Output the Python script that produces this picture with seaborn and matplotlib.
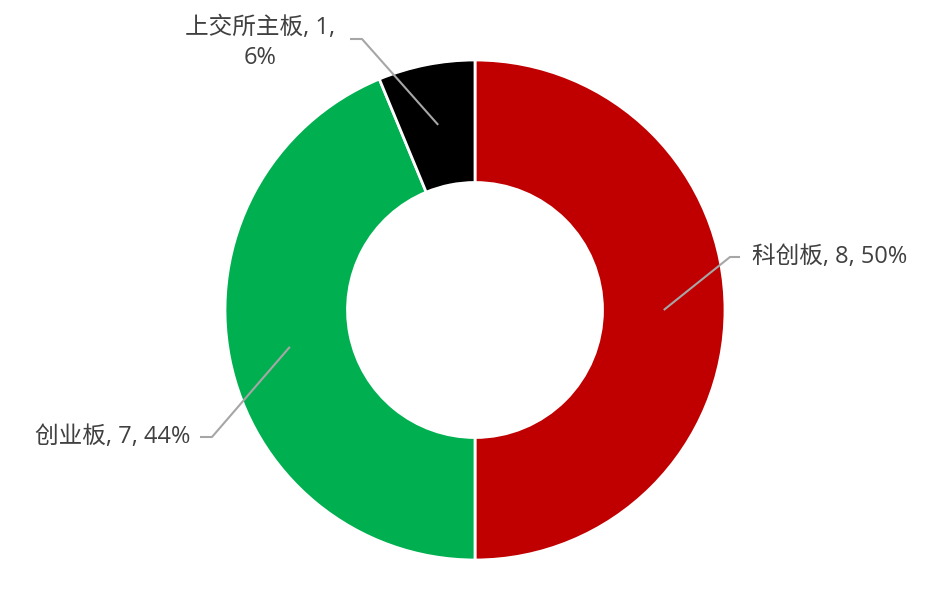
import numpy as np
import seaborn as sns
import matplotlib.pyplot as plt

# --- data ---
labels = ['科创板', '创业板', '上交所主板']
counts = [8, 7, 1]
percents = ['50%', '44%', '6%']
colors = ['#C00000', '#00B050', '#000000']

# --- style ---
sns.set_theme(style='white')
plt.rcParams['font.family'] = ['Open Sans', 'Noto Sans CJK SC', 'DejaVu Sans']

fig = plt.figure(figsize=(9.26, 5.94), dpi=100)
ax = fig.add_axes([0, 0, 1, 1])

wedges, _ = ax.pie(counts, colors=colors, startangle=90, counterclock=False,
                   radius=1, wedgeprops=dict(width=0.49, edgecolor='white', linewidth=2))

ax.set_xlim(-1.9, 1.804)
ax.set_ylim(-1.136, 1.24)
ax.set_aspect('equal')
ax.axis('off')

# leader line layout: elbow point, line end, text anchor, alignment, line break
layout = [
    dict(elbow=(1.02, 0.212), end=(1.06, 0.212), text=(1.108, 0.212), ha='left', sep=', '),
    dict(elbow=(-1.052, -0.508), end=(-1.10, -0.508), text=(-1.14, -0.508), ha='right', sep=', '),
    dict(elbow=(-0.452, 1.084), end=(-0.50, 1.084), text=(-0.86, 1.068), ha='center', sep=',\n'),
]

r_mid = 1 - 0.49 / 2
for w, lab, cnt, pct, lo in zip(wedges, labels, counts, percents, layout):
    ang = np.deg2rad((w.theta1 + w.theta2) / 2)
    start = (r_mid * np.cos(ang), r_mid * np.sin(ang))
    xs = [start[0], lo['elbow'][0], lo['end'][0]]
    ys = [start[1], lo['elbow'][1], lo['end'][1]]
    ax.plot(xs, ys, color='#A6A6A6', lw=1.5, solid_capstyle='butt')
    ax.text(lo['text'][0], lo['text'][1], f'{lab}, {cnt}{lo["sep"]}{pct}',
            ha=lo['ha'], va='center', fontsize=17, color='#404040',
            linespacing=1.3, multialignment='center')

plt.savefig('out.png', dpi=100)
